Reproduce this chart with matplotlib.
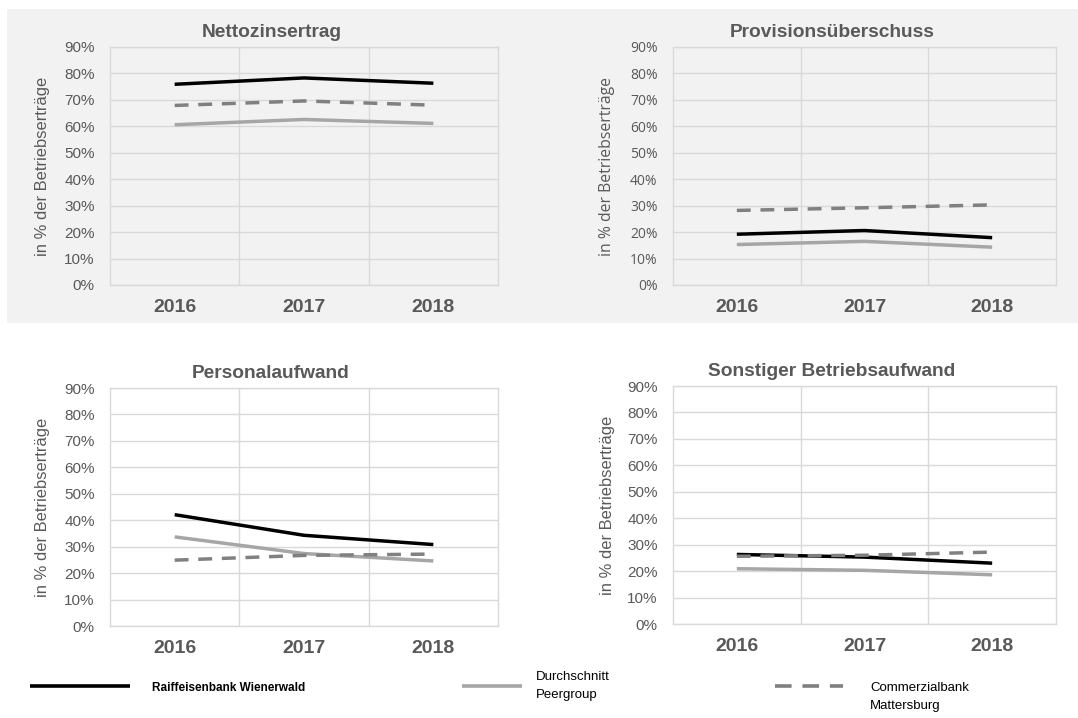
import matplotlib
matplotlib.use("Agg")
import matplotlib.pyplot as plt
from matplotlib.lines import Line2D
from matplotlib.patches import Rectangle
from matplotlib.ticker import FuncFormatter, FixedLocator

years = ["2016", "2017", "2018"]
series_names = ["Raiffeisenbank Wienerwald", "Durchschnitt\nPeergroup", "Commerzialbank\nMattersburg"]

titles = ["Nettozinsertrag", "Provisionsüberschuss", "Personalaufwand", "Sonstiger Betriebsaufwand"]

# values in % of operating income
raiffeisen = {
    "Nettozinsertrag": [75.9, 78.3, 76.3],
    "Provisionsüberschuss": [19.2, 20.6, 17.9],
    "Personalaufwand": [42.1, 34.3, 30.8],
    "Sonstiger Betriebsaufwand": [26.3, 25.3, 23.0],
}
peergroup = {
    "Nettozinsertrag": [60.6, 62.6, 61.1],
    "Provisionsüberschuss": [15.3, 16.5, 14.3],
    "Personalaufwand": [33.7, 27.4, 24.6],
    "Sonstiger Betriebsaufwand": [20.9, 20.3, 18.6],
}
commerzial = {
    "Nettozinsertrag": [67.9, 69.6, 68.0],
    "Provisionsüberschuss": [28.2, 29.2, 30.3],
    "Personalaufwand": [24.9, 26.7, 27.2],
    "Sonstiger Betriebsaufwand": [25.6, 26.0, 27.2],
}
y_ticks = list(range(0, 91, 10))
ylabel = "in % der Betriebserträge"

W, H = 1078, 718
fig = plt.figure(figsize=(W / 100, H / 100), dpi=100)
fig.patch.set_facecolor("white")

# grey background behind upper row
fig.add_artist(Rectangle((7 / W, 1 - 323 / H), 1 - 7 / W, (323 - 9) / H,
                         transform=fig.transFigure, facecolor="#F2F2F2",
                         edgecolor="none", zorder=-10))

FONT = ["Liberation Sans", "DejaVu Sans"]
TXT = "#595959"
GRID = "#D9D9D9"

# axes boxes in pixels: left, top, right, bottom
boxes = [
    (110, 47, 498, 285),
    (673, 47, 1056, 285),
    (110, 388, 498, 626),
    (673, 386, 1056, 624),
]
title_x = [0.418, 0.415, 0.415, 0.413]
face = ["#F2F2F2", "#F2F2F2", "white", "white"]

for i, name in enumerate(titles):
    l, t, r, b = boxes[i]
    ax = fig.add_axes([l / W, 1 - b / H, (r - l) / W, (b - t) / H])
    ax.set_facecolor(face[i])
    x = range(len(years))
    ax.plot(x, raiffeisen[name], color="black", lw=2.5, solid_capstyle="butt", zorder=3)
    ax.plot(x, peergroup[name], color="#A6A6A6", lw=2.5, solid_capstyle="butt", zorder=3)
    ax.plot(x, commerzial[name], color="#808080", lw=2.5, dashes=(4.0, 2.8), zorder=4)
    ax.set_xlim(-0.5, len(years) - 0.5)
    ax.set_ylim(0, 90)
    ax.yaxis.set_major_locator(FixedLocator(y_ticks))
    ax.yaxis.set_major_formatter(FuncFormatter(lambda v, p: f"{int(round(v))}%"))
    ax.set_xticks(list(x))
    ax.set_xticklabels(years, fontfamily=FONT, fontweight="bold", fontsize=14, color=TXT)
    ax.xaxis.set_minor_locator(FixedLocator([0.5, 1.5]))
    ax.grid(axis="y", which="major", color=GRID, lw=1.0, zorder=0)
    ax.grid(axis="x", which="minor", color=GRID, lw=1.0, zorder=0)
    ax.tick_params(axis="both", which="both", length=0)
    ax.tick_params(axis="x", pad=10)
    ax.tick_params(axis="y", pad=11)
    yfam = ["Open Sans", "DejaVu Sans"] if i == 1 else FONT
    ysize = 10 if i == 1 else 11
    lsize = 11.3 if i == 1 else 11.9
    for lab in ax.get_yticklabels():
        lab.set_fontfamily(yfam)
        lab.set_fontsize(ysize)
        lab.set_color(TXT)
    for s in ax.spines.values():
        s.set_color(GRID)
        s.set_linewidth(1.0)
    ax.set_ylabel(ylabel, fontfamily=yfam, fontsize=lsize, color=TXT)
    lab_x = (50 - l) / (r - l) if i in (0, 2) else (615 - l) / (r - l)
    ax.yaxis.set_label_coords(lab_x, 0.5)
    ax.set_title(name, fontfamily=FONT, fontweight="bold", fontsize=13.8, color=TXT,
                 x=title_x[i], pad=7)

# legend
LFONT = ["Liberation Sans Narrow", "Liberation Sans", "DejaVu Sans"]
def fx(px):
    return px / W
def fy(py):
    return 1 - py / H

fig.add_artist(Line2D([fx(30), fx(130)], [fy(686), fy(686)], color="black", lw=2.6,
                      transform=fig.transFigure, solid_capstyle="butt"))
fig.text(fx(152), fy(688), series_names[0], fontfamily=LFONT, fontweight="bold",
         fontsize=8.5, color="black", va="center", ha="left")
fig.add_artist(Line2D([fx(462), fx(522)], [fy(686), fy(686)], color="#A6A6A6", lw=2.6,
                      transform=fig.transFigure, solid_capstyle="butt"))
fig.text(fx(536), fy(686), series_names[1], fontfamily=LFONT,
         fontsize=9.5, color="black", va="center", ha="left", linespacing=1.7)
fig.add_artist(Line2D([fx(775), fx(843)], [fy(686), fy(686)], color="#808080", lw=2.6,
                      dashes=(4.6, 3.0), transform=fig.transFigure))
fig.text(fx(870), fy(697), series_names[2], fontfamily=LFONT,
         fontsize=9.5, color="black", va="center", ha="left", linespacing=1.7)

fig.savefig("out.png", dpi=100)
